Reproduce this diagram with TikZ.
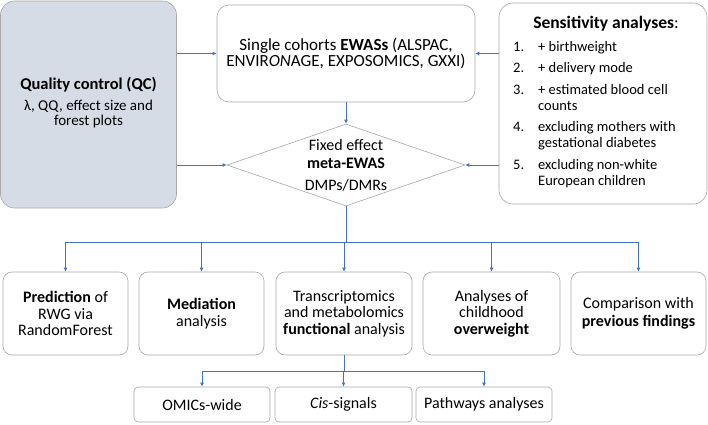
\documentclass[tikz,border=0pt]{standalone}
\usepackage{fontspec}
\setmainfont{Carlito}
\usetikzlibrary{shapes.geometric,arrows.meta}
\definecolor{qcfill}{HTML}{D6DCE5}
\definecolor{boxline}{HTML}{A6A6A6}
\definecolor{arrblue}{HTML}{4472C4}
\begin{document}
\begin{tikzpicture}[x=1pt,y=-1pt,
    box/.style={draw=boxline, line width=0.6pt, rounded corners=9pt, align=center, inner sep=2pt},
    arr/.style={draw=arrblue, line width=0.8pt, -{Latex[length=4pt,width=4pt]}},
    link/.style={draw=arrblue, line width=0.8pt},
    txt/.style={align=center, inner sep=0pt, font=\fontsize{16}{16.5}\selectfont}]
    \useasboundingbox (0,0) rectangle (708,424);
    % top row
    \node[box, fill=qcfill, rounded corners=14pt, minimum width=176pt, minimum height=207pt] (qc) at (88.5,104.5) {};
    \node[align=center, inner sep=0pt, font=\fontsize{15}{15.5}\selectfont] (qctxt) at (88.5,103) {{\fontsize{16.5}{18}\selectfont\textbf{Quality control (QC)}}\\[5pt] λ, QQ, effect size and\\ forest plots};
    \node[box, rounded corners=12pt, minimum width=258pt, minimum height=97pt, font=\fontsize{17}{16.5}\selectfont] (single) at (346,53.5) {Single cohorts \textbf{EWASs} (ALSPAC,\\ ENVIR\textit{ON}AGE, EXPOSOMICS, GXXI)};
    \node[box, rounded corners=14pt, minimum width=208pt, minimum height=201pt] (sens) at (603,103.5) {};
    \node[inner sep=0pt] (senstitle) at (606,24) {\fontsize{17.5}{18}\selectfont\textbf{Sensitivity analyses}:};
    \node[anchor=north west, inner sep=0pt, font=\fontsize{14.5}{16}\selectfont] (senslist) at (513,40) {%
        \begin{tabular}{@{}l@{\hspace{14pt}}l@{}}
        1. & + birthweight\\[5.5pt]
        2. & + delivery mode\\[5.5pt]
        3. & + estimated blood cell\\
           & counts\\[5.5pt]
        4. & excluding mothers with\\
           & gestational diabetes\\[5.5pt]
        5. & excluding non-white\\
           & European children
        \end{tabular}};
    % meta-analysis
    \node[diamond, draw=boxline, line width=0.6pt, minimum width=238pt, minimum height=82pt, inner sep=0pt] (meta) at (346,165) {};
    \node[txt] (metatxt) at (346,165.5) {Fixed effect\\[1.5pt] \textbf{meta-EWAS}\\[5pt] DMPs/DMRs};
    % follow-up analyses
    \node[box, txt, inner sep=2pt, minimum width=125pt, minimum height=83pt] (pred) at (65.5,313.5) {\textbf{Prediction} of\\ RWG via\\ RandomForest};
    \node[box, txt, inner sep=2pt, minimum width=125pt, minimum height=83pt] (med) at (201.5,313.5) {\textbf{Mediation}\\ analysis};
    \node[box, txt, inner sep=2pt, minimum width=136pt, minimum height=83pt] (func) at (344,313.5) {Transcriptomics\\ and metabolomics\\ \textbf{functional} analysis};
    \node[box, txt, inner sep=2pt, minimum width=137pt, minimum height=83pt] (over) at (491.5,313.5) {Analyses of\\ childhood\\ \textbf{overweight}};
    \node[box, txt, inner sep=2pt, minimum width=135pt, minimum height=83pt] (comp) at (638.5,313.5) {Comparison with\\[2pt] \textbf{previous findings}};
    % functional sub-analyses
    \node[box, txt, inner sep=2pt, rounded corners=4pt, minimum width=136pt, minimum height=35pt] (omics) at (202,404.5) {OMICs-wide};
    \node[box, txt, inner sep=2pt, rounded corners=4pt, minimum width=137pt, minimum height=35pt] (cis) at (343.5,404.5) {\textit{Cis}-signals};
    \node[box, txt, inner sep=2pt, rounded corners=4pt, minimum width=136pt, minimum height=35pt] (path) at (484,404.5) {Pathways analyses};
    % connectors
    \draw[arr] (qc.east |- single.west) -- (single.west);
    \draw[arr] (qc.east |- meta.west) -- (meta.west);
    \draw[arr] (sens.west |- single.east) -- (single.east);
    \draw[arr] (sens.west |- meta.east) -- (meta.east);
    \draw[arr] (single.south) -- (meta.north);
    \coordinate (split) at (346,242);
    \draw[link] (meta.south) -- (split);
    \foreach \n in {pred,med,func,over,comp}
        \draw[arr] (split) -| (\n.north);
    \coordinate (subsplit) at (344,371);
    \draw[link] (func.south) -- (subsplit);
    \foreach \n in {omics,cis,path}
        \draw[arr] (subsplit) -| (\n.north);
\end{tikzpicture}
\end{document}
